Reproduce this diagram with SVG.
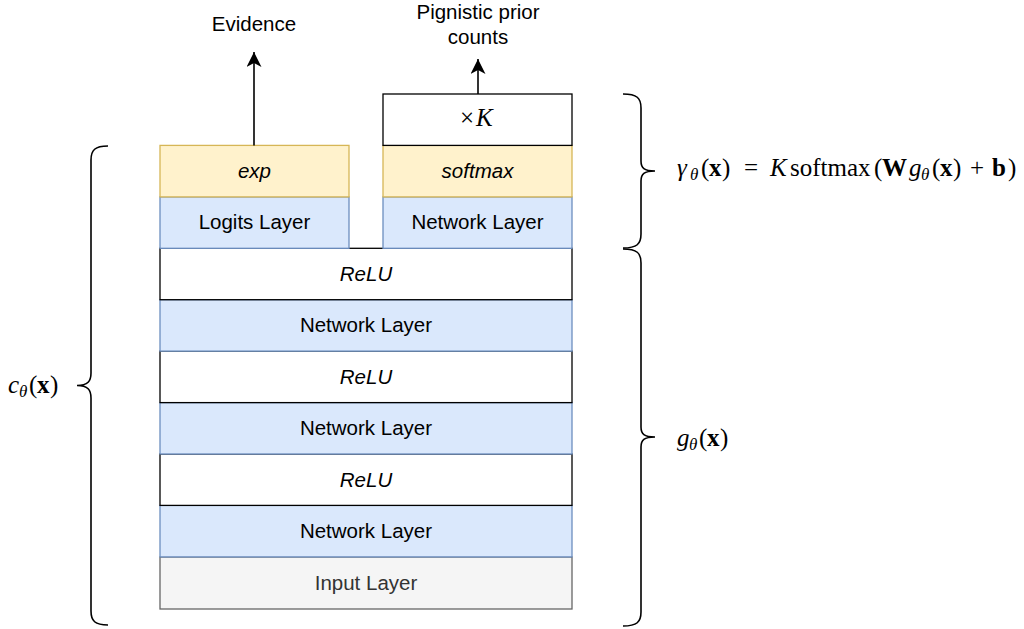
<svg xmlns="http://www.w3.org/2000/svg" width="1024" height="629" viewBox="0 0 1024 629">
  <style>
    .blue { fill: #dae8fc; stroke: #6c8ebf; stroke-width: 1.3; }
    .yellow { fill: #fff2cc; stroke: #d6b656; stroke-width: 1.3; }
    .plain { fill: #ffffff; stroke: #000000; stroke-width: 1.3; }
    .grey { fill: #f5f5f5; stroke: #666666; stroke-width: 1.3; }
    .lbl { font-family: "Liberation Sans", Arial, Helvetica, sans-serif; font-size: 20.5px; fill: #000000; text-anchor: middle; }
    .it { font-style: italic; }
    .math { font-family: "Liberation Serif", "Times New Roman", serif; font-size: 25px; fill: #000000; }
    .mi { font-style: italic; }
    .mb { font-weight: bold; }
    .sub { font-style: italic; font-size: 17px; }
    .brace { fill: none; stroke: #000000; stroke-width: 1.6; }
    .edge { fill: none; stroke: #000000; stroke-width: 1.6; }
  </style>
  <defs>
    <marker id="arrow" markerUnits="userSpaceOnUse" markerWidth="16" markerHeight="16" refX="15" refY="7.5" orient="auto">
      <path d="M0,0 L15,7.5 L0,15 L4,7.5 Z" fill="#000000"/>
    </marker>
  </defs>

  <!-- layer stack, bottom to top -->
  <g id="input-layer">
    <rect class="grey" x="160" y="557" width="412" height="52"/>
    <text class="lbl" x="366" y="590" style="fill:#333333">Input Layer</text>
  </g>
  <g id="network-layer-1">
    <rect class="blue" x="160" y="505.4" width="412" height="51.5"/>
    <text class="lbl" x="366" y="538">Network Layer</text>
  </g>
  <g id="relu-1">
    <rect class="plain" x="160" y="454" width="412" height="51.4"/>
    <text class="lbl it" x="366" y="487">ReLU</text>
  </g>
  <g id="network-layer-2">
    <rect class="blue" x="160" y="402.6" width="412" height="51.4"/>
    <text class="lbl" x="366" y="435">Network Layer</text>
  </g>
  <g id="relu-2">
    <rect class="plain" x="160" y="351.1" width="412" height="51.5"/>
    <text class="lbl it" x="366" y="384">ReLU</text>
  </g>
  <g id="network-layer-3">
    <rect class="blue" x="160" y="299.7" width="412" height="51.4"/>
    <text class="lbl" x="366" y="332">Network Layer</text>
  </g>
  <g id="relu-3">
    <rect class="plain" x="160" y="248.3" width="412" height="51.4"/>
    <text class="lbl it" x="366" y="281">ReLU</text>
  </g>

  <!-- left branch: evidence head -->
  <g id="logits-layer">
    <rect class="blue" x="160" y="196.9" width="189" height="51.4"/>
    <text class="lbl" x="254.5" y="229">Logits Layer</text>
  </g>
  <g id="exp">
    <rect class="yellow" x="160" y="145.4" width="189" height="51.5"/>
    <text class="lbl it" x="254.5" y="178">exp</text>
  </g>

  <!-- right branch: prior head -->
  <g id="prior-network-layer">
    <rect class="blue" x="383" y="196.9" width="189" height="51.4"/>
    <text class="lbl" x="477.5" y="229">Network Layer</text>
  </g>
  <g id="softmax">
    <rect class="yellow" x="383" y="145.4" width="189" height="51.5"/>
    <text class="lbl it" x="477.5" y="178">softmax</text>
  </g>
  <g id="times-k">
    <rect class="plain" x="383" y="94" width="189" height="51.4"/>
    <text class="math" y="126"><tspan x="460">×</tspan><tspan class="mi" x="476">K</tspan></text>
  </g>

  <!-- outputs -->
  <g id="evidence-label">
    <text class="lbl" x="254" y="31">Evidence</text>
  </g>
  <g id="prior-counts-label">
    <text class="lbl" x="478" y="19">Pignistic prior</text>
    <text class="lbl" x="478" y="44">counts</text>
  </g>

  <g id="connectors">
    <path class="edge" d="M254,145.4 L254,52" marker-end="url(#arrow)"/>
    <path class="edge" d="M478,94 L478,59" marker-end="url(#arrow)"/>
  </g>

  <!-- braces -->
  <g id="brace-c">
    <path class="brace" d="M108,146 C95,146 91,150 91,160 L91,373 C91,381 88,385.5 77,385.5 M77,385.5 C88,385.5 91,390 91,398 L91,611 C91,621 95,625 108,625"/>
  </g>
  <g id="brace-gamma">
    <path class="brace" d="M623,94 C637,94 641,98 641,108 L641,161 C641,168 644,171 655,171 M655,171 C644,171 641,174 641,181 L641,234 C641,244 637,248 623,248"/>
  </g>
  <g id="brace-g">
    <path class="brace" d="M623,249 C637,249 641,253 641,263 L641,427 C641,434 644,437 655,437 M655,437 C644,437 641,440 641,447 L641,612 C641,622 637,626 623,626"/>
  </g>

  <!-- brace annotations -->
  <g id="label-c">
    <text class="math" y="393"><tspan class="mi" x="8">c</tspan><tspan class="sub" x="19" y="397">θ</tspan><tspan x="29" y="393">(</tspan><tspan class="mb" x="37">x</tspan><tspan x="50">)</tspan></text>
  </g>
  <g id="label-gamma">
    <text class="math" y="176"><tspan class="mi" x="677">γ</tspan><tspan class="sub" x="690" y="180">θ</tspan><tspan x="701" y="176">(</tspan><tspan class="mb" x="709">x</tspan><tspan x="722">)</tspan><tspan x="744">=</tspan><tspan class="mi" x="770">K</tspan><tspan x="790">softmax</tspan><tspan x="874">(</tspan><tspan class="mb" x="882">W</tspan><tspan class="mi" x="909">g</tspan><tspan class="sub" x="921" y="180">θ</tspan><tspan x="932" y="176">(</tspan><tspan class="mb" x="940">x</tspan><tspan x="953">)</tspan><tspan x="970">+</tspan><tspan class="mb" x="992">b</tspan><tspan x="1008">)</tspan></text>
  </g>
  <g id="label-g">
    <text class="math" y="446"><tspan class="mi" x="677">g</tspan><tspan class="sub" x="689" y="450">θ</tspan><tspan x="699" y="446">(</tspan><tspan class="mb" x="707">x</tspan><tspan x="720">)</tspan></text>
  </g>
</svg>
